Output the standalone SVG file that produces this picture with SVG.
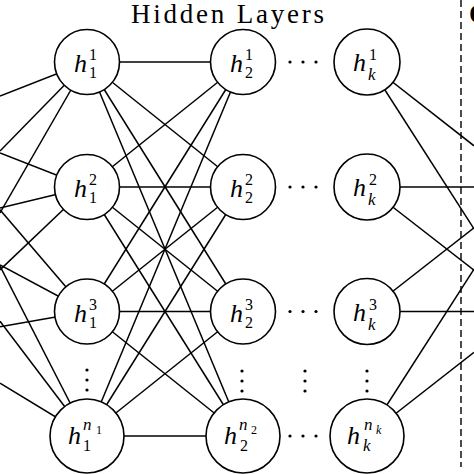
<svg xmlns="http://www.w3.org/2000/svg" width="474" height="474" viewBox="0 0 474 474">
<style>
.edge{stroke:#000;stroke-width:1.5;fill:none}
.node circle{fill:#fff;stroke:#000;stroke-width:1.6}
.h{font-family:"Liberation Serif",serif;font-style:italic;font-size:26px;fill:#000}
.s{font-style:normal;font-size:16px}
.si{font-style:italic;font-size:17px}
.ss{font-style:normal;font-size:12px}
.ssi{font-style:italic;font-size:12px}
.title{font-family:"Liberation Serif",serif;font-size:27px;fill:#000}
.dot{fill:#000}
</style>
<rect width="474" height="474" fill="#fff"/>
<text class="title" x="131" y="23" textLength="193" lengthAdjust="spacing">Hidden Layers</text>
<text class="title" x="469" y="23" font-weight="bold">O</text>
<line x1="461" y1="0" x2="461" y2="467" stroke="#000" stroke-width="1.4" stroke-dasharray="7 4"/>
<g id="connectors" class="edge">
<line x1="0" y1="96" x2="87" y2="62"/>
<line x1="0" y1="152.9" x2="87" y2="187"/>
<line x1="0" y1="209.8" x2="87" y2="311.5"/>
<line x1="0" y1="266.2" x2="87" y2="436"/>
<line x1="0" y1="151" x2="87" y2="62"/>
<line x1="0" y1="207.9" x2="87" y2="187"/>
<line x1="0" y1="264.8" x2="87" y2="311.5"/>
<line x1="0" y1="321.2" x2="87" y2="436"/>
<line x1="0" y1="213" x2="87" y2="62"/>
<line x1="0" y1="269.9" x2="87" y2="187"/>
<line x1="0" y1="326.8" x2="87" y2="311.5"/>
<line x1="0" y1="383.2" x2="87" y2="436"/>
<line x1="87" y1="62" x2="243" y2="62"/>
<line x1="87" y1="62" x2="243" y2="187"/>
<line x1="87" y1="62" x2="243" y2="311.5"/>
<line x1="87" y1="62" x2="243" y2="436"/>
<line x1="87" y1="187" x2="243" y2="62"/>
<line x1="87" y1="187" x2="243" y2="187"/>
<line x1="87" y1="187" x2="243" y2="311.5"/>
<line x1="87" y1="187" x2="243" y2="436"/>
<line x1="87" y1="311.5" x2="243" y2="62"/>
<line x1="87" y1="311.5" x2="243" y2="187"/>
<line x1="87" y1="311.5" x2="243" y2="311.5"/>
<line x1="87" y1="311.5" x2="243" y2="436"/>
<line x1="87" y1="436" x2="243" y2="62"/>
<line x1="87" y1="436" x2="243" y2="187"/>
<line x1="87" y1="436" x2="243" y2="311.5"/>
<line x1="87" y1="436" x2="243" y2="436"/>
<line x1="367" y1="62" x2="474" y2="145.8"/>
<line x1="367" y1="62" x2="474" y2="228.9"/>
<line x1="367" y1="187" x2="474" y2="187"/>
<line x1="367" y1="187" x2="474" y2="270.1"/>
<line x1="367" y1="311.5" x2="474" y2="227.9"/>
<line x1="367" y1="311.5" x2="474" y2="311.5"/>
<line x1="367" y1="436" x2="474" y2="269.2"/>
<line x1="367" y1="436" x2="474" y2="352.3"/>
</g>
<g id="dots">
<circle class="dot" cx="290" cy="62" r="1.6"/><circle class="dot" cx="303" cy="62" r="1.6"/><circle class="dot" cx="316" cy="62" r="1.6"/>
<circle class="dot" cx="290" cy="187" r="1.6"/><circle class="dot" cx="303" cy="187" r="1.6"/><circle class="dot" cx="316" cy="187" r="1.6"/>
<circle class="dot" cx="290" cy="311.5" r="1.6"/><circle class="dot" cx="303" cy="311.5" r="1.6"/><circle class="dot" cx="316" cy="311.5" r="1.6"/>
<circle class="dot" cx="290" cy="436" r="1.6"/><circle class="dot" cx="303" cy="436" r="1.6"/><circle class="dot" cx="316" cy="436" r="1.6"/>
<circle class="dot" cx="87" cy="370" r="1.6"/><circle class="dot" cx="87" cy="380" r="1.6"/><circle class="dot" cx="87" cy="390" r="1.6"/>
<circle class="dot" cx="242" cy="371" r="1.6"/><circle class="dot" cx="242" cy="381" r="1.6"/><circle class="dot" cx="242" cy="391" r="1.6"/>
<circle class="dot" cx="305" cy="371" r="1.6"/><circle class="dot" cx="305" cy="381" r="1.6"/><circle class="dot" cx="305" cy="391" r="1.6"/>
<circle class="dot" cx="367" cy="371" r="1.6"/><circle class="dot" cx="367" cy="381" r="1.6"/><circle class="dot" cx="367" cy="391" r="1.6"/>
</g>
<g id="h1_1" class="node"><circle cx="87" cy="62" r="32.5"/><text class="h" x="74" y="72">h<tspan class="s" x="89" y="60">1</tspan><tspan class="s" x="89" y="78">1</tspan></text></g>
<g id="h1_2" class="node"><circle cx="87" cy="187" r="32.5"/><text class="h" x="74" y="197">h<tspan class="s" x="89" y="185">2</tspan><tspan class="s" x="89" y="203">1</tspan></text></g>
<g id="h1_3" class="node"><circle cx="87" cy="311.5" r="32.5"/><text class="h" x="74" y="321.5">h<tspan class="s" x="89" y="309.5">3</tspan><tspan class="s" x="89" y="327.5">1</tspan></text></g>
<g id="h1_n" class="node"><circle cx="87" cy="436" r="37"/><text class="h" x="68" y="444">h<tspan class="si" x="83" y="430">n</tspan><tspan class="ss" x="96" y="434">1</tspan><tspan class="s" x="83" y="451">1</tspan></text></g>
<g id="h2_1" class="node"><circle cx="243" cy="62" r="32.5"/><text class="h" x="230" y="72">h<tspan class="s" x="245" y="60">1</tspan><tspan class="s" x="245" y="78">2</tspan></text></g>
<g id="h2_2" class="node"><circle cx="243" cy="187" r="32.5"/><text class="h" x="230" y="197">h<tspan class="s" x="245" y="185">2</tspan><tspan class="s" x="245" y="203">2</tspan></text></g>
<g id="h2_3" class="node"><circle cx="243" cy="311.5" r="32.5"/><text class="h" x="230" y="321.5">h<tspan class="s" x="245" y="309.5">3</tspan><tspan class="s" x="245" y="327.5">2</tspan></text></g>
<g id="h2_n" class="node"><circle cx="243" cy="436" r="37"/><text class="h" x="224" y="444">h<tspan class="si" x="239" y="430">n</tspan><tspan class="ss" x="251" y="434">2</tspan><tspan class="s" x="240" y="451">2</tspan></text></g>
<g id="hk_1" class="node"><circle cx="367" cy="62" r="33"/><text class="h" x="353" y="71">h<tspan class="s" x="369" y="60">1</tspan><tspan class="si" x="368" y="80">k</tspan></text></g>
<g id="hk_2" class="node"><circle cx="367" cy="187" r="33"/><text class="h" x="353" y="196">h<tspan class="s" x="369" y="185">2</tspan><tspan class="si" x="368" y="205">k</tspan></text></g>
<g id="hk_3" class="node"><circle cx="367" cy="311.5" r="33"/><text class="h" x="353" y="320.5">h<tspan class="s" x="369" y="309.5">3</tspan><tspan class="si" x="368" y="329.5">k</tspan></text></g>
<g id="hk_n" class="node"><circle cx="367" cy="436" r="37"/><text class="h" x="347" y="444">h<tspan class="si" x="364" y="430">n</tspan><tspan class="ssi" x="376" y="434">k</tspan><tspan class="si" x="363" y="451">k</tspan></text></g>
</svg>
